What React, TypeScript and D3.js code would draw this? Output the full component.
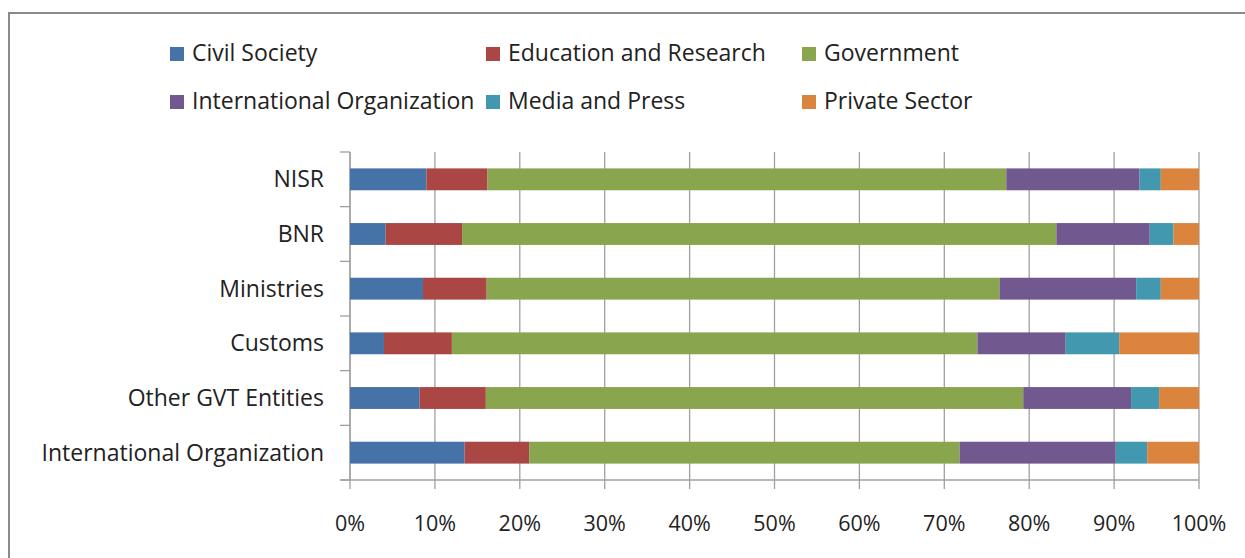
import React from "react";
import * as d3 from "d3";

const categories = ["NISR", "BNR", "Ministries", "Customs", "Other GVT Entities", "International Organization"];
const seriesNames = ["Civil Society", "Education and Research", "Government", "International Organization", "Media and Press", "Private Sector"];
const seriesColors = ["#4572A7", "#AA4643", "#89A54E", "#71588F", "#4198AF", "#DB843D"];
const civilSociety = [9.0, 4.2, 8.6, 4.0, 8.2, 13.5];
const educationResearch = [7.2, 9.0, 7.5, 8.0, 7.8, 7.6];
const government = [61.1, 70.0, 60.4, 61.9, 63.3, 50.7];
const internationalOrg = [15.7, 11.0, 16.1, 10.4, 12.7, 18.4];
const mediaPress = [2.5, 2.8, 2.9, 6.3, 3.3, 3.7];
const privateSector = [4.5, 3.0, 4.5, 9.4, 4.7, 6.1];
const tickValues = [0, 10, 20, 30, 40, 50, 60, 70, 80, 90, 100];

const W = 1245;
const H = 558;
const FONT = "'Open Sans', Lato, sans-serif";
const FS = 23;
const TICK_FS = 21.5;

export default function App() {
  const seriesValues = [civilSociety, educationResearch, government, internationalOrg, mediaPress, privateSector];
  const rows = categories.map((c, i) => {
    const row: any = { cat: c };
    seriesNames.forEach((s, j) => (row[s] = seriesValues[j][i]));
    return row;
  });
  const stack = d3.stack<any>().keys(seriesNames).offset(d3.stackOffsetExpand);
  const stacked = stack(rows);

  const x = d3.scaleLinear().domain([0, 1]).range([350, 1199]);
  const yBand = d3.scaleBand().domain(categories).range([152, 480]);
  const y = d3.scaleBand().domain(categories).range([152, 480]).paddingInner(0.6).paddingOuter(0.3);

  const legendCols = [170, 486, 802];
  const legendRows = [47, 95];

  return (
    <div style={{ position: "absolute", left: 0, top: 0 }}>
      <svg width={W} height={H} style={{ display: "block", background: "#fff" }}>
        <rect x={9} y={13} width={1300} height={700} fill="#fff" stroke="#8a8a8a" strokeWidth={2} />
        {tickValues.map((t) => (
          <line key={"g" + t} x1={x(t / 100)} x2={x(t / 100)} y1={152} y2={489} stroke="#a0a0a0" strokeWidth={1.3} />
        ))}
        <line x1={350} x2={350} y1={152} y2={480} stroke="#a0a0a0" strokeWidth={1.3} />
        {[...categories.map((c) => yBand(c)!), 480].map((v, i) => (
          <line key={"yt" + i} x1={340} x2={350} y1={v} y2={v} stroke="#a0a0a0" strokeWidth={1.3} />
        ))}
        {stacked.map((s, j) => (
          <g key={s.key} fill={seriesColors[j]}>
            {s.map((d, i) => (
              <rect
                key={i}
                x={x(d[0])}
                y={y(categories[i])}
                width={x(d[1]) - x(d[0])}
                height={y.bandwidth()}
              />
            ))}
          </g>
        ))}
        <line x1={340} x2={1199} y1={480} y2={480} stroke="#a0a0a0" strokeWidth={1.5} />
        {tickValues.map((t) => (
          <text key={"tl" + t} x={x(t / 100)} y={531} textAnchor="middle" fontFamily={FONT} fontSize={TICK_FS} fill="#222">
            {t + "%"}
          </text>
        ))}
        {categories.map((c) => (
          <text key={"c" + c} x={324} y={yBand(c)! + yBand.bandwidth() / 2 + 8} textAnchor="end" fontFamily={FONT} fontSize={FS} fill="#222">
            {c}
          </text>
        ))}
        {seriesNames.map((s, j) => {
          const cx = legendCols[j % 3];
          const cy = legendRows[Math.floor(j / 3)];
          return (
            <g key={"l" + s}>
              <rect x={cx} y={cy} width={14} height={14} fill={seriesColors[j]} />
              <text x={cx + 22} y={cy + 14} fontFamily={FONT} fontSize={FS} fill="#222">
                {s}
              </text>
            </g>
          );
        })}
      </svg>
    </div>
  );
}
